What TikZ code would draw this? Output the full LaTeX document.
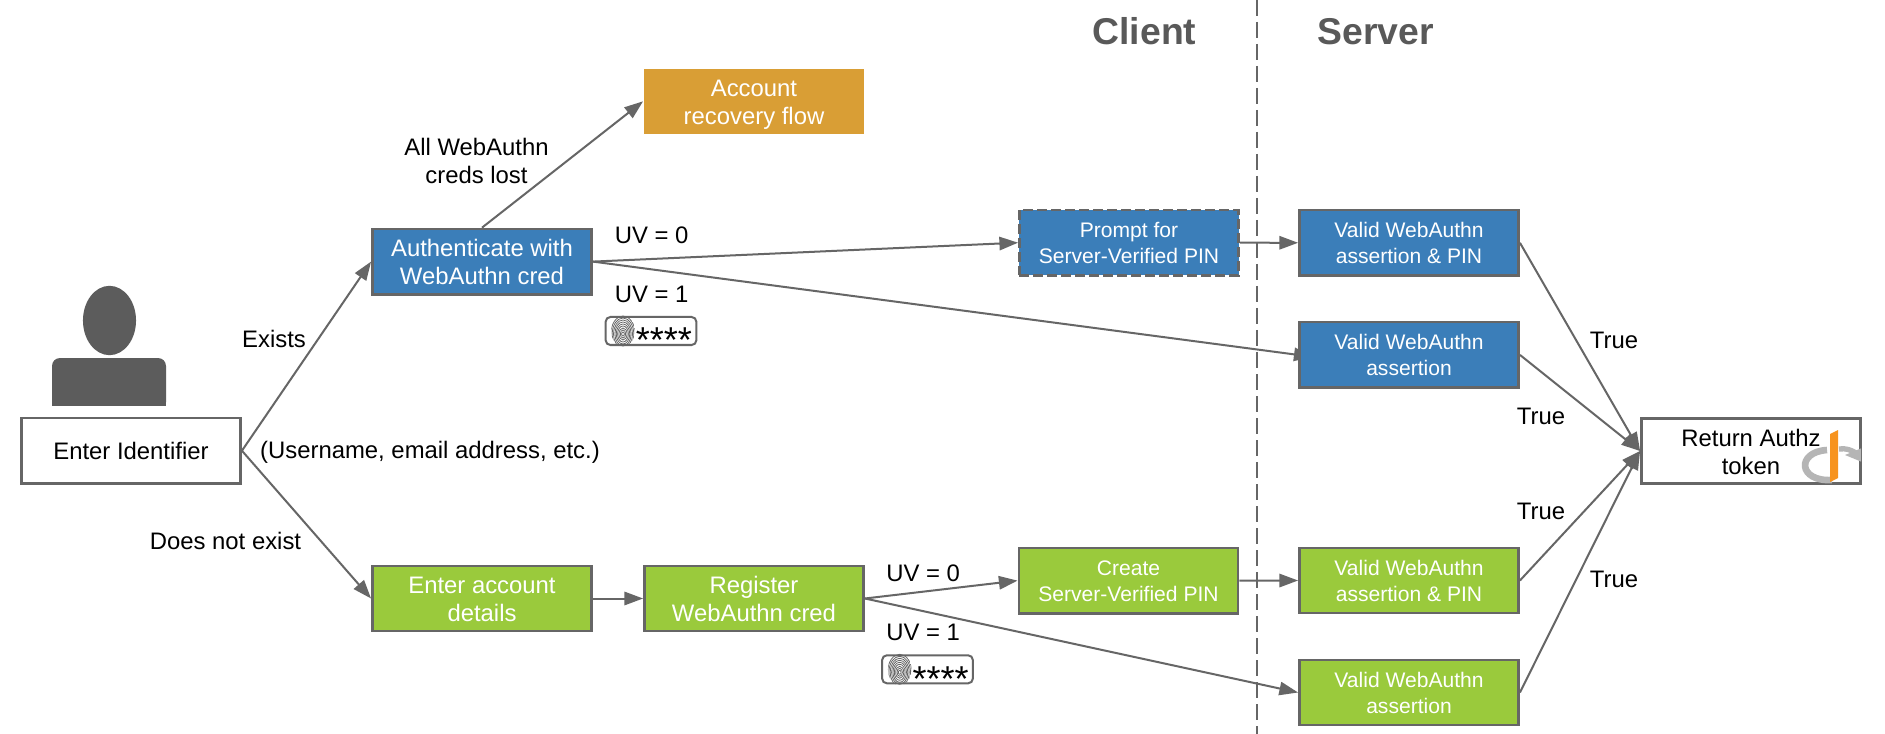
\documentclass[tikz,border=0pt]{standalone}
\usepackage{fontspec}
\setmainfont{Liberation Sans}
\usetikzlibrary{arrows.meta}
\definecolor{cblue}{HTML}{3B7EB9}
\definecolor{cgreen}{HTML}{9ACA3C}
\definecolor{corange}{HTML}{D99E35}
\definecolor{cline}{HTML}{666666}
\definecolor{cperson}{HTML}{5C5C5C}
\definecolor{chead}{HTML}{595959}
\definecolor{clogo}{HTML}{B5B5B5}
\definecolor{cbar}{HTML}{F7931E}
\newcommand{\stl}{\rule[-3.75pt]{0pt}{21pt}}
\newcommand{\sts}{\rule[-3.75pt]{0pt}{19.5pt}}
\pgfdeclarelayer{paper}
\pgfdeclarelayer{under}
\pgfsetlayers{paper,under,main}
\tikzset{
  x=0.75pt,y=-0.75pt,
  bigfont/.style={font=\fontsize{17.9pt}{21pt}\selectfont},
  smallfont/.style={font=\fontsize{15.8pt}{19.5pt}\selectfont},
  box/.style={draw=cline,line width=1.9pt,inner sep=0pt,minimum width=164.5pt,minimum height=49pt,align=center,text=white},
  bigbox/.style={box,bigfont},
  smallbox/.style={box,smallfont},
  bluebox/.style={fill=cblue},
  greenbox/.style={fill=cgreen},
  whitebox/.style={box,bigfont,fill=white,text=black},
  lab/.style={bigfont,inner sep=0pt,anchor=base,text=black},
  mlab/.style={bigfont,inner sep=0pt,align=center,text=black},
  side/.style={font=\fontsize{28pt}{32pt}\selectfont\bfseries,text=chead,inner sep=0pt,anchor=base},
  link/.style={draw=cline,line width=1.5pt,-{Triangle[length=14pt,width=10pt]}},
  badge/.style={draw=cline,line width=1.5pt,rounded corners=3.5pt,fill=white,minimum width=68pt,minimum height=21pt,inner sep=0pt},
  stars/.style={font=\fontsize{27pt}{30pt}\selectfont,inner sep=0pt,anchor=base,text=black},
}
\newcommand{\fprint}[2]{%
  \begin{scope}[shift={(#1,#2)}]
    \clip (0,0) ellipse [x radius=8.8pt,y radius=12pt];
    \foreach \r in {1,2,...,9}
      \draw[draw=black!60,line width=0.6pt] (0,3) ellipse [x radius=1.35*\r*0.75pt,y radius=2*\r*0.75pt];
  \end{scope}}
\begin{document}
\begin{tikzpicture}
\useasboundingbox (0,0) rectangle (1885,734);
\begin{pgfonlayer}{paper}
\fill[white] (0,0) rectangle (1885,734);
\end{pgfonlayer}

% person
\fill[cperson] (109.5,320.5) ellipse [x radius=19.9pt,y radius=26pt];
\fill[cperson,rounded corners=6pt] (52,410) -- (52,358) -- (166,358) -- (166,410) -- cycle;
\fill[cperson] (52,385) rectangle (166,406);
\fill[white] (40,406) rectangle (180,412);

% divider
\coordinate (divtop) at (1257,0);
\coordinate (divbot) at (1257,734);
\draw[draw=cline,line width=1.9pt,dash pattern=on 12pt off 4.5pt] (divtop) -- (divbot);

\node[side] (client) at (1144.5,45) {Client};
\node[side] (server) at (1375.5,45) {Server};

% boxes
\node[whitebox] (id) at (131,450.7) {\stl Enter Identifier};
\node[bigbox,bluebox] (auth) at (482,261.6) {\stl Authenticate with\\\stl WebAuthn cred};
\node[bigbox,fill=corange,draw=none,minimum width=164.5pt,minimum height=48.5pt] (rec) at (754,101.3) {\stl Account\\\stl recovery flow};
\node[smallbox,bluebox,dash pattern=on 7.5pt off 3pt] (prompt) at (1129,242.7) {\sts Prompt for\\\sts Server-Verified PIN};
\node[smallbox,bluebox] (v1) at (1409,242.8) {\sts Valid WebAuthn\\\sts assertion \& PIN};
\node[smallbox,bluebox] (v2) at (1409,354.9) {\sts Valid WebAuthn\\\sts assertion};
\node[whitebox] (ret) at (1751,451) {};
\node[bigbox,greenbox] (acct) at (482,598.5) {\stl Enter account\\\stl details};
\node[bigbox,greenbox] (reg) at (754,598.5) {\stl Register\\\stl WebAuthn cred};
\node[smallbox,greenbox] (create) at (1128.5,580.6) {\sts Create\\\sts Server-Verified PIN};
\node[smallbox,greenbox] (v3) at (1409,580.5) {\sts Valid WebAuthn\\\sts assertion \& PIN};
\node[smallbox,greenbox] (v4) at (1409,692.5) {\sts Valid WebAuthn\\\sts assertion};

% logo inside the return box
\begin{scope}
  \clip (1641,418) rectangle (1861,484);
  \draw[draw=clogo,line width=5pt] (1827,450) .. controls (1796,452) and (1798,482) .. (1832,480);
  \draw[draw=clogo,line width=4pt] (1839,449) .. controls (1846,448) and (1851,450) .. (1856,453);
  \fill[clogo] (1845,455) -- (1862,448) -- (1862,462) -- cycle;
  \fill[cbar] (1830,434) -- (1838,430) -- (1838,478) -- (1830,482) -- cycle;
\end{scope}
\node[mlab] (rettext) at (1751,451) {\stl Return Authz\\\stl token};

% connectors
\draw[link] (id.east) -- (auth.west);
\draw[link] (id.east) -- (acct.west);
\draw[link] (auth.north) -- (rec.west);
\draw[link] (auth.east) -- (prompt.west);
\begin{pgfonlayer}{under}
\draw[link,shorten >=-11pt] (auth.east) -- (v2.west);
\end{pgfonlayer}
\draw[link] (prompt.east) -- (v1.west);
\draw[link] (acct.east) -- (reg.west);
\draw[link] (reg.east) -- (create.west);
\draw[link] (reg.east) -- (v4.west);
\draw[link] (create.east) -- (v3.west);
\draw[link] (v1.east) -- (ret.west);
\draw[link] (v2.east) -- (ret.west);
\draw[link] (v3.east) -- (ret.west);
\draw[link] (v4.east) -- (ret.west);

% labels
\node[mlab] (lost) at (476.5,160.5) {\stl All WebAuthn\\\stl creds lost};
\node[lab] (exists) at (274,348) {Exists};
\node[lab] (dne) at (225.5,549) {Does not exist};
\node[lab] (uname) at (430,458) {(Username, email address, etc.)};
\node[lab,anchor=base west] (uv0a) at (614.5,243.7) {UV = 0};
\node[lab,anchor=base west] (uv1a) at (614.5,302.7) {UV = 1};
\node[lab,anchor=base west] (uv0b) at (886,581.7) {UV = 0};
\node[lab,anchor=base west] (uv1b) at (886,640.7) {UV = 1};
\node[lab] (t1) at (1614,349) {True};
\node[lab] (t2) at (1541,424) {True};
\node[lab] (t3) at (1541,519) {True};
\node[lab] (t4) at (1614,587.3) {True};

% badges
\node[badge] (b1) at (651,331) {};
\fprint{623}{331}
\node[stars] (s1) at (664,353) {****};
\node[badge] (b2) at (927.5,669.3) {};
\fprint{899.7}{669.3}
\node[stars] (s2) at (940.7,691.3) {****};
\end{tikzpicture}
\end{document}
